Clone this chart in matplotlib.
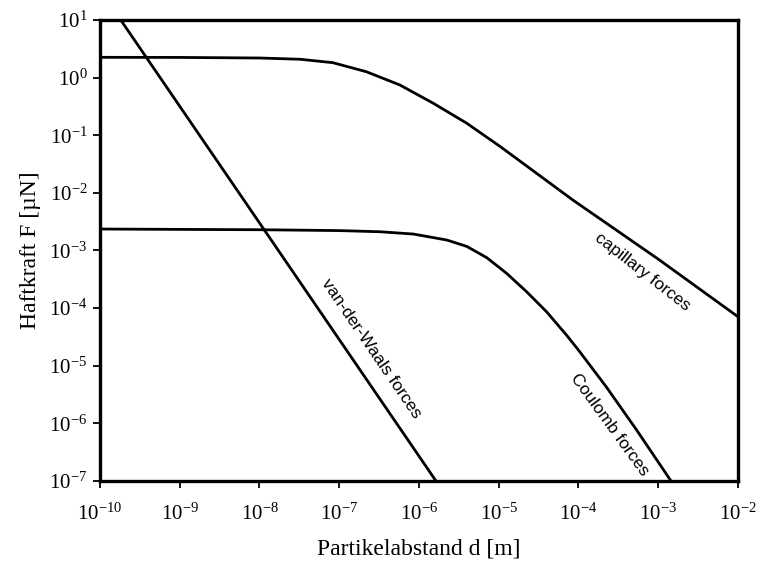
import numpy as np
import matplotlib
matplotlib.use("Agg")
import matplotlib.pyplot as plt

plt.rcParams['font.family'] = ['Liberation Serif', 'DejaVu Serif']
plt.rcParams['mathtext.fontset'] = 'custom'
plt.rcParams['mathtext.rm'] = 'Liberation Serif'
plt.rcParams['mathtext.it'] = 'Liberation Serif:italic'

# curves, as log10(d [m]) and log10(F [uN])
vdw_logd = [-9.74, -5.787]
vdw_logF = [1.0, -7.0]

cap_logd = [-10.0, -9.0, -8.0, -7.49, -7.08, -6.66, -6.24, -5.82, -5.40, -4.98, -4.07, -3.0, -2.0]
cap_logF = [0.352, 0.350, 0.340, 0.318, 0.259, 0.102, -0.128, -0.446, -0.793, -1.198, -2.125, -3.15, -4.15]

coul_logd = [-10.0, -8.0, -7.0, -6.49, -6.07, -5.65, -5.40, -5.15, -4.90, -4.65, -4.40, -4.15, -4.00,
             -3.65, -3.27, -2.84]
coul_logF = [-2.628, -2.640, -2.655, -2.675, -2.715, -2.819, -2.930, -3.125, -3.398, -3.717, -4.064,
             -4.469, -4.729, -5.37, -6.118, -7.0]

xticks_exp = list(range(-10, -1))
yticks_exp = list(range(-7, 2))

fig = plt.figure(figsize=(7.58, 5.69), dpi=100)
ax = fig.add_axes([0.1319, 0.1547, 0.8417, 0.8102])

lw = 2.0
ax.plot(10**np.array(vdw_logd), 10**np.array(vdw_logF), color='black', lw=lw)
ax.plot(10**np.array(cap_logd), 10**np.array(cap_logF), color='black', lw=lw)
ax.plot(10**np.array(coul_logd), 10**np.array(coul_logF), color='black', lw=lw)

ax.set_xscale('log')
ax.set_yscale('log')
ax.set_xlim(1e-10, 1e-2)
ax.set_ylim(1e-7, 1e1)

ax.set_xticks([10.0**e for e in xticks_exp])
ax.set_xticklabels(['$10^{%d}$' % e for e in xticks_exp])
ax.set_yticks([10.0**e for e in yticks_exp])
ax.set_yticklabels(['$10^{%d}$' % e for e in yticks_exp])
ax.minorticks_off()
ax.tick_params(axis='both', direction='out', length=5, width=1.3, labelsize=15, pad=4)
ax.tick_params(axis='x', pad=11)

for s in ax.spines.values():
    s.set_linewidth(2.4)

ax.set_xlabel('Partikelabstand d [m]', fontsize=17, labelpad=10)
ax.set_ylabel('Haftkraft F [µN]', fontsize=17, labelpad=6)

# curve labels
lab_font = dict(family=['Liberation Sans', 'DejaVu Sans'], fontsize=12.5, ha='center', va='center',
                rotation_mode='anchor')
ax.text(10**-6.60, 10**-4.71, 'van-der-Waals forces', rotation=-55.7, **lab_font)
ax.text(10**-3.605, 10**-6.02, 'Coulomb forces', rotation=-54, **lab_font)
ax.text(10**-3.20, 10**-3.38, 'capillary forces', rotation=-38, **lab_font)

fig.savefig('out.png', dpi=100)
